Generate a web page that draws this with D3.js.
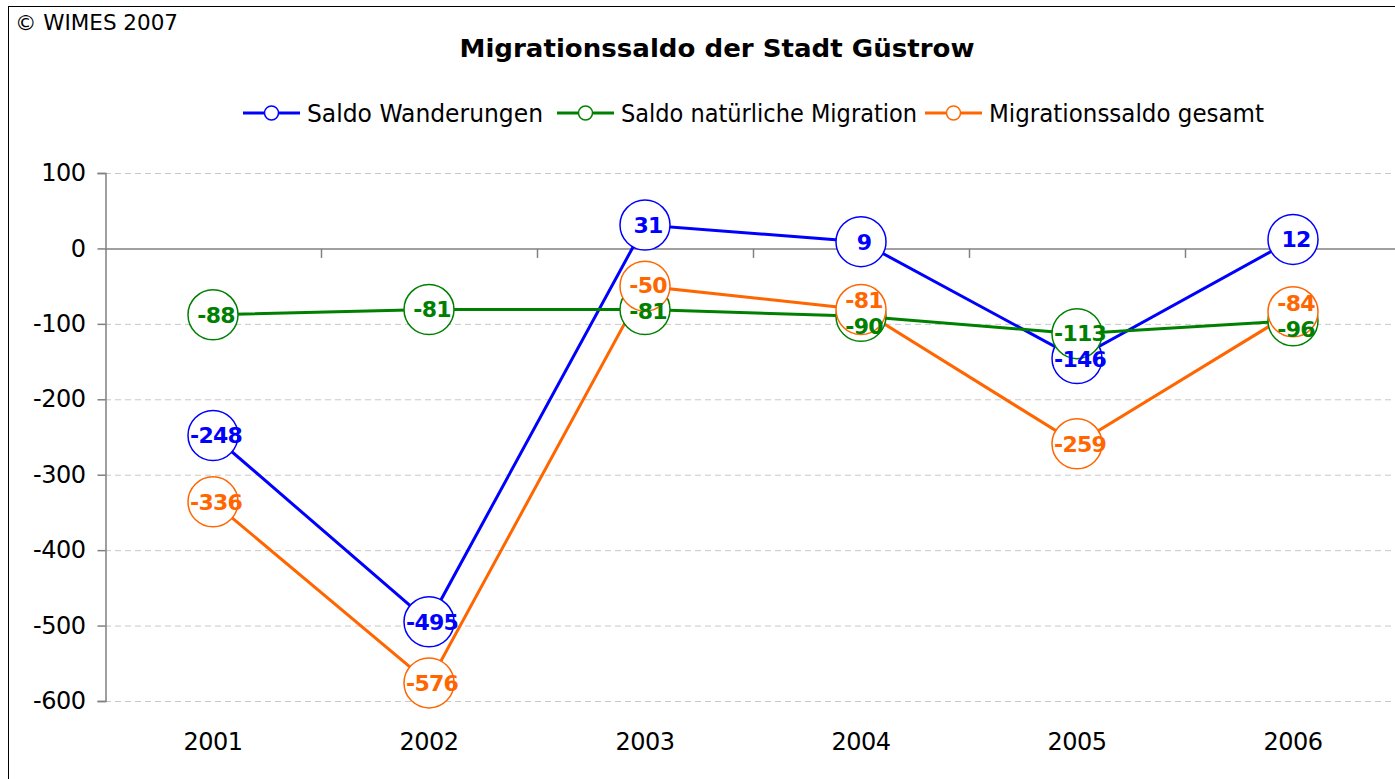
<!DOCTYPE html>
<html>
<head>
<meta charset="utf-8">
<script src="https://cdn.jsdelivr.net/npm/d3@7"></script>
<style>
  body { margin: 0; background: #fff; }
  svg { display: block; font-family: "DejaVu Sans", Verdana, sans-serif; }
</style>
</head>
<body>
<script>
const years = ['2001', '2002', '2003', '2004', '2005', '2006'];
const saldoWanderungen = [-248, -495, 31, 9, -146, 12];
const saldoNatuerlich = [-88, -81, -81, -90, -113, -96];
const saldoGesamt = [-336, -576, -50, -81, -259, -84];
const yTicks = [100, 0, -100, -200, -300, -400, -500, -600];

const seriesNames = ['Saldo Wanderungen', 'Saldo natürliche Migration', 'Migrationssaldo gesamt'];
const seriesColors = ['#0000ff', '#008000', '#ff6600'];
const series = [saldoWanderungen, saldoNatuerlich, saldoGesamt].map((values, i) => ({
  name: seriesNames[i], color: seriesColors[i], values
}));

const w = 1395;
const h = 779;
const plot = { left: 105, right: 1401, top: 173, bottom: 701 };

const svg = d3.select('body').append('svg')
  .attr('width', w)
  .attr('height', h);

// outer frame (runs off the right/bottom edge like the original)
svg.append('rect')
  .attr('x', 8.5).attr('y', 6.5)
  .attr('width', w + 20).attr('height', h + 20)
  .attr('fill', 'none').attr('stroke', '#000').attr('stroke-width', 1);

svg.append('text')
  .attr('x', 15).attr('y', 30)
  .attr('font-size', 21)
  .attr('textLength', 163).attr('lengthAdjust', 'spacingAndGlyphs')
  .text('© WIMES 2007');

svg.append('text')
  .attr('x', 717).attr('y', 57)
  .attr('text-anchor', 'middle')
  .attr('font-size', 25).attr('font-weight', 'bold')
  .attr('textLength', 515).attr('lengthAdjust', 'spacingAndGlyphs')
  .text('Migrationssaldo der Stadt Güstrow');

const xScale = d3.scaleBand().domain(years).range([plot.left, plot.right]).padding(0);
const yScale = d3.scaleLinear().domain([-600, 100]).range([plot.bottom, plot.top]);
const cx = (i) => xScale(years[i]) + xScale.bandwidth() / 2;

// gridlines
svg.append('g')
  .selectAll('line')
  .data(yTicks.filter(d => d !== 0))
  .enter().append('line')
  .attr('x1', plot.left).attr('x2', w)
  .attr('y1', d => yScale(d) + 0.5).attr('y2', d => yScale(d) + 0.5)
  .attr('stroke', '#c8c8c8').attr('stroke-dasharray', '6,4');

// y axis
const yAxis = d3.axisLeft(yScale).tickValues(yTicks).tickSize(8).tickPadding(12)
  .tickFormat(d => String(d));
const gy = svg.append('g')
  .attr('transform', `translate(${plot.left + 0.5},0)`)
  .call(yAxis);
gy.select('.domain').attr('stroke', '#808080').attr('stroke-width', 1.5);
gy.selectAll('.tick line').attr('stroke', '#808080').attr('stroke-width', 1.5);
gy.selectAll('.tick text').attr('font-size', 24).attr('fill', '#000')
  .attr('letter-spacing', -0.5)
  .attr('font-family', '"DejaVu Sans", Verdana, sans-serif');

// zero line with category ticks
const zeroY = yScale(0) + 0.5;
svg.append('line')
  .attr('x1', plot.left).attr('x2', w)
  .attr('y1', zeroY).attr('y2', zeroY)
  .attr('stroke', '#808080').attr('stroke-width', 1.5);
svg.append('g')
  .selectAll('line')
  .data(years.slice(1))
  .enter().append('line')
  .attr('x1', d => xScale(d) + 0.5).attr('x2', d => xScale(d) + 0.5)
  .attr('y1', zeroY).attr('y2', zeroY + 9)
  .attr('stroke', '#808080').attr('stroke-width', 1.5);

// x labels
const gx = svg.append('g')
  .attr('transform', `translate(0,${plot.bottom})`)
  .call(d3.axisBottom(xScale).tickSize(0).tickPadding(32));
gx.select('.domain').remove();
gx.selectAll('.tick text').attr('font-size', 24).attr('fill', '#000')
  .attr('letter-spacing', -0.5)
  .attr('font-family', '"DejaVu Sans", Verdana, sans-serif');

// lines
const line = d3.line().x((d, i) => cx(i)).y(d => yScale(d));
svg.append('g')
  .selectAll('path')
  .data(series)
  .enter().append('path')
  .attr('d', d => line(d.values))
  .attr('fill', 'none')
  .attr('stroke', d => d.color)
  .attr('stroke-width', 3);

// markers
series.forEach(s => {
  svg.append('g')
    .selectAll('circle')
    .data(s.values)
    .enter().append('circle')
    .attr('cx', (d, i) => cx(i))
    .attr('cy', d => yScale(d))
    .attr('r', 25)
    .attr('fill', '#fff')
    .attr('stroke', s.color)
    .attr('stroke-width', 1.5);
});

// data labels, pushed apart vertically where they would collide
const labels = [];
series.forEach(s => {
  s.values.forEach((v, i) => {
    labels.push({ v, i, color: s.color, x: cx(i) + 3, y: yScale(v) });
  });
});
const minGap = 26;
years.forEach((yr, i) => {
  const group = labels.filter(l => l.i === i).sort((a, b) => a.y - b.y);
  for (let k = 1; k < group.length; k++) {
    const gap = group[k].y - group[k - 1].y;
    if (gap < minGap) {
      const shift = (minGap - gap) / 2;
      group[k - 1].y -= shift;
      group[k].y += shift;
    }
  }
});
svg.append('g')
  .selectAll('text')
  .data(labels)
  .enter().append('text')
  .attr('x', d => d.x)
  .attr('y', d => d.y)
  .attr('dy', '0.36em')
  .attr('text-anchor', 'middle')
  .attr('font-size', 22).attr('font-weight', 'bold')
  .attr('letter-spacing', -0.8)
  .attr('fill', d => d.color)
  .text(d => String(d.v));

// legend
const legendX = [243, 557, 925];
const legendTextW = [236, 296, 275];
const legend = svg.append('g').attr('transform', 'translate(0,113)');
series.forEach((s, i) => {
  const g = legend.append('g').attr('transform', `translate(${legendX[i]},0)`);
  g.append('line').attr('x1', 0).attr('x2', 57).attr('y1', 0).attr('y2', 0)
    .attr('stroke', s.color).attr('stroke-width', 3);
  g.append('circle').attr('cx', 28.5).attr('cy', 0).attr('r', 7)
    .attr('fill', '#fff').attr('stroke', s.color).attr('stroke-width', 1.5);
  g.append('text').attr('x', 64).attr('y', 0).attr('dy', '0.36em')
    .attr('font-size', 24)
    .attr('textLength', legendTextW[i]).attr('lengthAdjust', 'spacingAndGlyphs')
    .text(s.name);
});
</script>
</body>
</html>
